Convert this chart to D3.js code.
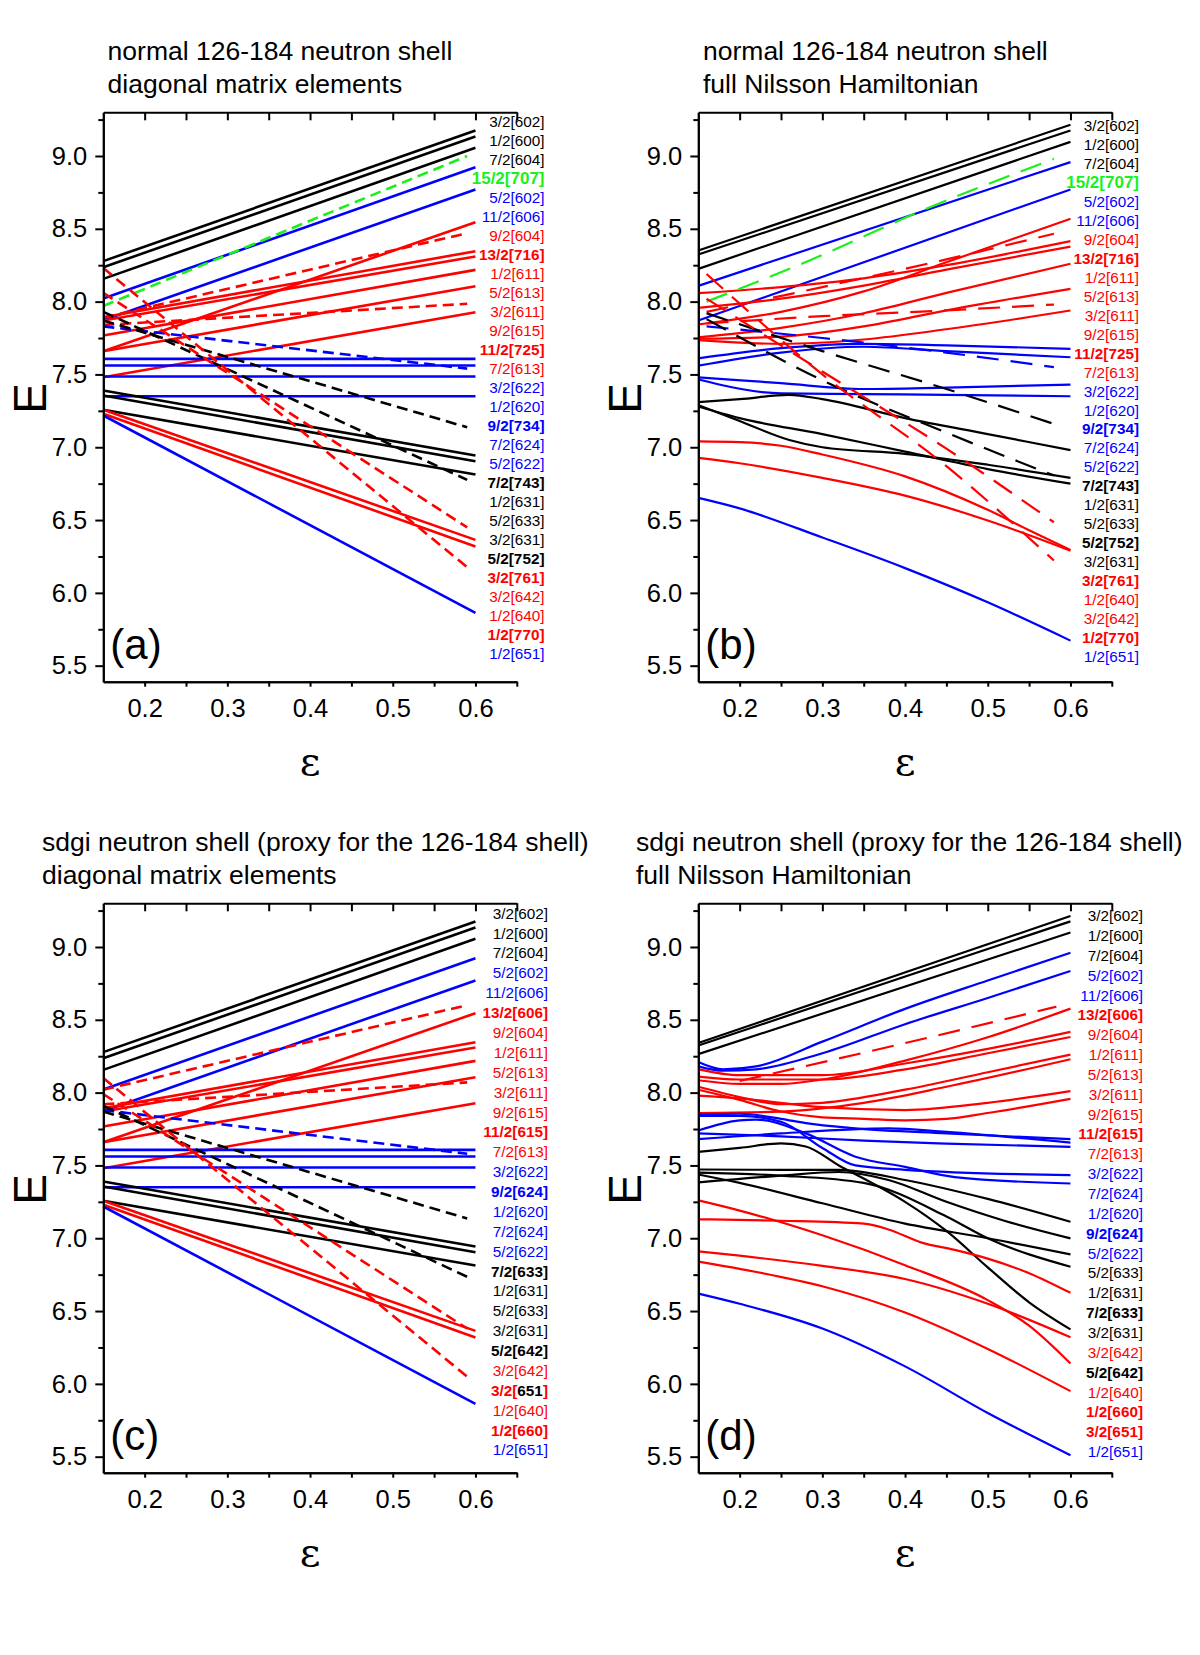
<!DOCTYPE html>
<html>
<head>
<meta charset="utf-8">
<style>
    body { margin: 0; background: white; }
    svg { display: block; font-family: 'Liberation Sans', Arial, Helvetica, sans-serif; }
</style>
</head>
<body>
<svg width="1200" height="1655"></svg>

<script src="https://d3js.org/d3.v7.min.js"></script>
<script>
    // axis values
    let epsDomain = [0.15, 0.65]
    let eDomain = [5.39, 9.3]
    let epsMajor = [0.2, 0.3, 0.4, 0.5, 0.6]
    let epsMinor = [0.25, 0.35, 0.45, 0.55, 0.65]
    let eMajor = [5.5, 6.0, 6.5, 7.0, 7.5, 8.0, 8.5, 9.0]
    let eMinor = [5.75, 6.25, 6.75, 7.25, 7.75, 8.25, 8.75, 9.25]

    // diagonal matrix elements are straight lines: [colour, E at first eps, E at last eps]
    let diagEps = [0.15, 0.6]
    let dashEps = [0.15, 0.59]
    let diagSolid = [
        ["k", 8.278, 9.175], ["k", 8.236, 9.134], ["k", 8.156, 9.056],
        ["b", 8.022, 8.923], ["b", 7.872, 8.770],
        ["r", 7.659, 8.545], ["r", 7.893, 8.346], ["r", 7.870, 8.310], ["r", 7.767, 8.218],
        ["r", 7.659, 8.106], ["r", 7.481, 7.927],
        ["b", 7.607, 7.607], ["b", 7.561, 7.561], ["b", 7.486, 7.486], ["b", 7.350, 7.350],
        ["k", 7.389, 6.943], ["k", 7.355, 6.904], ["k", 7.257, 6.813],
        ["r", 7.257, 6.364], ["r", 7.230, 6.318],
        ["b", 7.218, 5.863]
    ]
    let diagDashedA = [
        ["g", 7.97, 9.00], ["r", 7.89, 8.47], ["r", 7.84, 7.985], ["b", 7.83, 7.54],
        ["k", 7.87, 7.137], ["k", 7.93, 6.776], ["r", 8.06, 6.45], ["r", 8.23, 6.176]
    ]
    let diagDashedC = [
        ["r", 8.02, 8.60], ["r", 7.92, 8.07], ["b", 7.88, 7.58], ["k", 7.87, 7.136],
        ["k", 7.91, 6.735], ["r", 7.99, 6.38], ["r", 8.10, 6.05]
    ]

    // full Nilsson hamiltonian, normal 126-184 shell: [colour, [[eps, E], ...]]
    let fullSolidB = [
        ["k", [[0.15, 8.351], [0.6, 9.214]]],
        ["k", [[0.15, 8.323], [0.6, 9.175]]],
        ["k", [[0.15, 8.225], [0.6, 9.097]]],
        ["b", [[0.15, 8.108], [0.6, 8.958]]],
        ["b", [[0.15, 7.870], [0.6, 8.770]]],
        ["r", [[0.15, 8.058], [0.25, 8.10], [0.35, 8.16], [0.45, 8.25], [0.6, 8.415]]],
        ["r", [[0.15, 7.957], [0.25, 8.02], [0.35, 8.11], [0.45, 8.22], [0.6, 8.378]]],
        ["r", [[0.15, 7.843], [0.25, 7.93], [0.35, 8.07], [0.45, 8.27], [0.6, 8.569]]],
        ["r", [[0.15, 7.755], [0.25, 7.82], [0.35, 7.92], [0.45, 8.06], [0.6, 8.26]]],
        ["r", [[0.15, 7.745], [0.25, 7.76], [0.35, 7.83], [0.45, 7.94], [0.6, 8.088]]],
        ["r", [[0.15, 7.735], [0.25, 7.71], [0.35, 7.74], [0.45, 7.81], [0.6, 7.939]]],
        ["b", [[0.15, 7.61], [0.25, 7.68], [0.35, 7.71], [0.45, 7.70], [0.6, 7.676]]],
        ["b", [[0.15, 7.56], [0.25, 7.65], [0.35, 7.69], [0.45, 7.66], [0.6, 7.618]]],
        ["b", [[0.15, 7.48], [0.25, 7.44], [0.35, 7.40], [0.45, 7.41], [0.6, 7.43]]],
        ["b", [[0.15, 7.465], [0.25, 7.37], [0.35, 7.365], [0.45, 7.36], [0.6, 7.35]]],
        ["k", [[0.15, 7.31], [0.2, 7.33], [0.26, 7.36], [0.3, 7.33], [0.4, 7.20], [0.5, 7.09], [0.6, 6.98]]],
        ["k", [[0.15, 7.29], [0.2, 7.18], [0.26, 7.05], [0.3, 7.00], [0.4, 6.955], [0.5, 6.88], [0.6, 6.79]]],
        ["k", [[0.15, 7.28], [0.2, 7.20], [0.3, 7.09], [0.4, 6.97], [0.5, 6.85], [0.6, 6.75]]],
        ["r", [[0.15, 7.04], [0.2, 7.035], [0.25, 7.01], [0.3, 6.95], [0.4, 6.80], [0.5, 6.57], [0.55, 6.43], [0.6, 6.295]]],
        ["r", [[0.15, 6.927], [0.2, 6.89], [0.3, 6.79], [0.4, 6.668], [0.5, 6.497], [0.6, 6.29]]],
        ["b", [[0.15, 6.652], [0.2, 6.58], [0.3, 6.38], [0.4, 6.17], [0.5, 5.935], [0.6, 5.672]]]
    ]
    let fullDashedB = [
        ["g", [[0.16, 8.00], [0.3, 8.32], [0.41, 8.60], [0.58, 8.98]]],
        ["r", [[0.16, 7.93], [0.3, 8.10], [0.45, 8.29], [0.58, 8.466]]],
        ["r", [[0.16, 7.85], [0.3, 7.90], [0.45, 7.94], [0.58, 7.98]]],
        ["b", [[0.16, 7.83], [0.3, 7.75], [0.45, 7.65], [0.58, 7.55]]],
        ["k", [[0.16, 7.92], [0.3, 7.66], [0.45, 7.40], [0.58, 7.16]]],
        ["k", [[0.16, 7.88], [0.3, 7.46], [0.45, 7.10], [0.58, 6.806]]],
        ["r", [[0.16, 8.02], [0.3, 7.52], [0.45, 6.99], [0.58, 6.485]]],
        ["r", [[0.16, 8.19], [0.3, 7.50], [0.45, 6.87], [0.58, 6.222]]]
    ]

    // full Nilsson hamiltonian, sdgi proxy shell
    let fullSolidD = [
        ["k", [[0.15, 8.341], [0.6, 9.213]]],
        ["k", [[0.15, 8.323], [0.6, 9.176]]],
        ["k", [[0.15, 8.264], [0.6, 9.099]]],
        ["b", [[0.15, 8.21], [0.18, 8.16], [0.22, 8.18], [0.3, 8.35], [0.4, 8.575], [0.5, 8.77], [0.6, 8.96]]],
        ["b", [[0.15, 8.18], [0.18, 8.15], [0.22, 8.16], [0.3, 8.27], [0.4, 8.47], [0.5, 8.65], [0.6, 8.835]]],
        ["r", [[0.15, 8.16], [0.2, 8.12], [0.3, 8.12], [0.4, 8.20], [0.5, 8.30], [0.6, 8.417]]],
        ["r", [[0.15, 8.11], [0.2, 8.09], [0.3, 8.09], [0.4, 8.16], [0.5, 8.27], [0.6, 8.382]]],
        ["r", [[0.15, 8.085], [0.2, 8.06], [0.25, 8.06], [0.3, 8.09], [0.4, 8.22], [0.5, 8.38], [0.6, 8.577]]],
        ["r", [[0.15, 8.04], [0.2, 7.97], [0.25, 7.92], [0.3, 7.93], [0.4, 8.02], [0.5, 8.14], [0.6, 8.261]]],
        ["r", [[0.15, 8.02], [0.2, 7.95], [0.25, 7.87], [0.3, 7.83], [0.35, 7.82], [0.4, 7.81], [0.45, 7.82], [0.5, 7.86], [0.6, 7.957]]],
        ["r", [[0.15, 7.86], [0.25, 7.87], [0.35, 7.93], [0.45, 8.04], [0.6, 8.229]]],
        ["r", [[0.15, 7.98], [0.2, 7.96], [0.3, 7.90], [0.4, 7.88], [0.5, 7.93], [0.6, 8.010]]],
        ["b", [[0.15, 7.85], [0.2, 7.855], [0.25, 7.82], [0.28, 7.79], [0.34, 7.755], [0.45, 7.72], [0.6, 7.68]]],
        ["b", [[0.15, 7.74], [0.2, 7.81], [0.22, 7.815], [0.28, 7.72], [0.34, 7.56], [0.4, 7.49], [0.46, 7.42], [0.6, 7.376]]],
        ["b", [[0.15, 7.72], [0.25, 7.70], [0.35, 7.67], [0.45, 7.65], [0.6, 7.627]]],
        ["b", [[0.15, 7.68], [0.25, 7.72], [0.38, 7.755], [0.45, 7.73], [0.6, 7.657]]],
        ["b", [[0.15, 7.84], [0.2, 7.84], [0.25, 7.80], [0.3, 7.62], [0.34, 7.50], [0.4, 7.47], [0.6, 7.433]]],
        ["k", [[0.15, 7.593], [0.2, 7.62], [0.25, 7.651], [0.28, 7.63], [0.32, 7.50], [0.36, 7.38], [0.4, 7.25], [0.45, 7.05], [0.5, 6.80], [0.55, 6.56], [0.6, 6.374]]],
        ["k", [[0.15, 7.472], [0.25, 7.47], [0.32, 7.47], [0.4, 7.40], [0.5, 7.27], [0.6, 7.113]]],
        ["k", [[0.15, 7.383], [0.25, 7.43], [0.32, 7.455], [0.38, 7.40], [0.45, 7.25], [0.52, 7.12], [0.6, 6.999]]],
        ["k", [[0.15, 7.438], [0.2, 7.38], [0.3, 7.24], [0.4, 7.10], [0.5, 7.00], [0.6, 6.889]]],
        ["k", [[0.15, 7.45], [0.25, 7.43], [0.35, 7.38], [0.45, 7.15], [0.5, 7.00], [0.6, 6.804]]],
        ["r", [[0.15, 7.13], [0.25, 7.12], [0.35, 7.10], [0.38, 7.06], [0.42, 6.97], [0.46, 6.92], [0.5, 6.86], [0.55, 6.76], [0.6, 6.625]]],
        ["r", [[0.15, 7.26], [0.2, 7.19], [0.3, 7.02], [0.4, 6.815], [0.5, 6.575], [0.55, 6.40], [0.6, 6.14]]],
        ["r", [[0.15, 6.91], [0.2, 6.88], [0.3, 6.81], [0.4, 6.72], [0.5, 6.55], [0.6, 6.32]]],
        ["r", [[0.15, 6.84], [0.2, 6.79], [0.3, 6.67], [0.4, 6.49], [0.5, 6.24], [0.6, 5.95]]],
        ["b", [[0.15, 6.62], [0.2, 6.55], [0.3, 6.38], [0.4, 6.12], [0.5, 5.80], [0.6, 5.51]]]
    ]
    let fullDashedD = [
        ["r", [[0.2, 8.08], [0.4, 8.34], [0.583, 8.59]]]
    ]

    // level labels on the right: [text, colour, bold, optional coloured pieces]
    let labelsA = [
        ["3/2[602]", "k"], ["1/2[600]", "k"], ["7/2[604]", "k"], ["15/2[707]", "g", 1], ["5/2[602]", "b"],
        ["11/2[606]", "b"], ["9/2[604]", "r"], ["13/2[716]", "r", 1], ["1/2[611]", "r"], ["5/2[613]", "r"],
        ["3/2[611]", "r"], ["9/2[615]", "r"], ["11/2[725]", "r", 1], ["7/2[613]", "r"], ["3/2[622]", "b"],
        ["1/2[620]", "b"], ["9/2[734]", "b", 1], ["7/2[624]", "b"], ["5/2[622]", "b"], ["7/2[743]", "k", 1],
        ["1/2[631]", "k"], ["5/2[633]", "k"], ["3/2[631]", "k"], ["5/2[752]", "k", 1], ["3/2[761]", "r", 1],
        ["3/2[642]", "r"], ["1/2[640]", "r"], ["1/2[770]", "r", 1], ["1/2[651]", "b"]
    ]
    let labelsB = [
        ["3/2[602]", "k"], ["1/2[600]", "k"], ["7/2[604]", "k"], ["15/2[707]", "g", 1], ["5/2[602]", "b"],
        ["11/2[606]", "b"], ["9/2[604]", "r"], ["13/2[716]", "r", 1], ["1/2[611]", "r"], ["5/2[613]", "r"],
        ["3/2[611]", "r"], ["9/2[615]", "r"], ["11/2[725]", "r", 1], ["7/2[613]", "r"], ["3/2[622]", "b"],
        ["1/2[620]", "b"], ["9/2[734]", "b", 1], ["7/2[624]", "b"], ["5/2[622]", "b"], ["7/2[743]", "k", 1],
        ["1/2[631]", "k"], ["5/2[633]", "k"], ["5/2[752]", "k", 1], ["3/2[631]", "k"], ["3/2[761]", "r", 1],
        ["1/2[640]", "r"], ["3/2[642]", "r"], ["1/2[770]", "r", 1], ["1/2[651]", "b"]
    ]
    let labelsC = [
        ["3/2[602]", "k"], ["1/2[600]", "k"], ["7/2[604]", "k"], ["5/2[602]", "b"], ["11/2[606]", "b"],
        ["13/2[606]", "r", 1], ["9/2[604]", "r"], ["1/2[611]", "r"], ["5/2[613]", "r"], ["3/2[611]", "r"],
        ["9/2[615]", "r"], ["11/2[615]", "r", 1], ["7/2[613]", "r"], ["3/2[622]", "b"], ["9/2[624]", "b", 1],
        ["1/2[620]", "b"], ["7/2[624]", "b"], ["5/2[622]", "b"], ["7/2[633]", "k", 1], ["1/2[631]", "k"],
        ["5/2[633]", "k"], ["3/2[631]", "k"], ["5/2[642]", "k", 1], ["3/2[642]", "r"],
        ["3/2[651]", "r", 1, [["3/2[", "r"], ["651", "k"], ["]", "r"]]],
        ["1/2[640]", "r"], ["1/2[660]", "r", 1], ["1/2[651]", "b"]
    ]
    let labelsD = [
        ["3/2[602]", "k"], ["1/2[600]", "k"], ["7/2[604]", "k"], ["5/2[602]", "b"], ["11/2[606]", "b"],
        ["13/2[606]", "r", 1], ["9/2[604]", "r"], ["1/2[611]", "r"], ["5/2[613]", "r"], ["3/2[611]", "r"],
        ["9/2[615]", "r"], ["11/2[615]", "r", 1], ["7/2[613]", "r"], ["3/2[622]", "b"], ["7/2[624]", "b"],
        ["1/2[620]", "b"], ["9/2[624]", "b", 1], ["5/2[622]", "b"], ["5/2[633]", "k"], ["1/2[631]", "k"],
        ["7/2[633]", "k", 1], ["3/2[631]", "k"], ["3/2[642]", "r"], ["5/2[642]", "k", 1], ["1/2[640]", "r"],
        ["1/2[660]", "r", 1], ["3/2[651]", "r", 1], ["1/2[651]", "b"]
    ]

    let colours = { k: "#000000", b: "#0000ff", r: "#ff0000", g: "#1af01a" }

    let svg = d3.select("svg")
    let plotW = 413.5
    let plotH = 569.4

    // turn the straight-line tables into point lists
    function straight(rows, eps) {
        return rows.map(r => [r[0], [[eps[0], r[1]], [eps[1], r[2]]]])
    }

    let panels = [
        {
            left: 103.3, top: 112.3, tag: "(a)", smooth: false, lw: 2.6, dash: "11,6",
            title: ["normal 126-184 neutron shell", "diagonal matrix elements"], titleX: 107.6,
            solid: straight(diagSolid, diagEps), dashed: straight(diagDashedA, dashEps),
            labels: labelsA, labelX: 544.5, labelY0: 122, labelStep: 19.0
        },
        {
            left: 698.3, top: 112.3, tag: "(b)", smooth: true, lw: 2.2, dash: "22,12",
            title: ["normal 126-184 neutron shell", "full Nilsson Hamiltonian"], titleX: 703,
            solid: fullSolidB, dashed: fullDashedB,
            labels: labelsB, labelX: 1139, labelY0: 125.7, labelStep: 18.96
        },
        {
            left: 103.3, top: 903.3, tag: "(c)", smooth: false, lw: 2.6, dash: "11,6",
            title: ["sdgi neutron shell (proxy for the 126-184 shell)", "diagonal matrix elements"], titleX: 42,
            solid: straight(diagSolid, diagEps), dashed: straight(diagDashedC, dashEps),
            labels: labelsC, labelX: 548, labelY0: 913.3, labelStep: 19.88
        },
        {
            left: 698.3, top: 903.3, tag: "(d)", smooth: true, lw: 2.2, dash: "22,12",
            title: ["sdgi neutron shell (proxy for the 126-184 shell)", "full Nilsson Hamiltonian"], titleX: 636,
            solid: fullSolidD, dashed: fullDashedD,
            labels: labelsD, labelX: 1143, labelY0: 915.7, labelStep: 19.85
        }
    ]

    panels.forEach(drawPanel)

    function drawPanel(p) {
        let x = d3.scaleLinear().domain(epsDomain).range([p.left, p.left + plotW])
        let y = d3.scaleLinear().domain(eDomain).range([p.top + plotH, p.top])
        let g = svg.append("g")

        let line = d3.line()
            .x(d => x(d[0]))
            .y(d => y(d[1]))
            .curve(p.smooth ? d3.curveMonotoneX : d3.curveLinear)

        g.append("g").selectAll("path")
            .data(p.solid)
            .join("path")
            .attr("d", d => line(d[1]))
            .attr("fill", "none")
            .attr("stroke", d => colours[d[0]])
            .attr("stroke-width", p.lw)

        g.append("g").selectAll("path")
            .data(p.dashed)
            .join("path")
            .attr("d", d => line(d[1]))
            .attr("fill", "none")
            .attr("stroke", d => colours[d[0]])
            .attr("stroke-width", p.lw)
            .attr("stroke-dasharray", p.dash)

        // axes
        let fmt = d3.format(".1f")
        let bottom = p.top + plotH
        g.append("g").attr("transform", `translate(${p.left},0)`)
            .call(d3.axisLeft(y).tickValues(eMajor).tickSize(8).tickPadding(8).tickSizeOuter(0).tickFormat(fmt))
        g.append("g").attr("transform", `translate(${p.left},0)`)
            .call(d3.axisLeft(y).tickValues(eMinor).tickSize(5).tickSizeOuter(0).tickFormat(""))
        g.append("g").attr("transform", `translate(0,${bottom})`)
            .call(d3.axisBottom(x).tickValues(epsMajor).tickSize(5).tickPadding(12).tickSizeOuter(0).tickFormat(fmt))
        g.append("g").attr("transform", `translate(0,${bottom})`)
            .call(d3.axisBottom(x).tickValues(epsMinor).tickSize(5).tickSizeOuter(0).tickFormat(""))
        g.append("g").attr("transform", `translate(0,${p.top})`)
            .call(d3.axisBottom(x).tickValues(epsMajor.concat(epsMinor)).tickSize(8).tickSizeOuter(0).tickFormat(""))

        g.selectAll(".domain, .tick line").attr("stroke", "black").attr("stroke-width", 2)
        g.selectAll(".tick text")
            .attr("font-family", "'Liberation Sans', Arial, sans-serif")
            .attr("font-size", "25.5px")
            .attr("fill", "black")

        // axis titles
        g.append("text")
            .attr("x", (x.range()[0] + x.range()[1]) / 2)
            .attr("y", bottom + 93)
            .attr("text-anchor", "middle")
            .attr("font-family", "'DejaVu Serif', 'Liberation Serif', serif")
            .attr("font-size", "40px")
            .text("ε")
        g.append("text")
            .attr("transform", `translate(${p.left - 73},${p.top + 286}) rotate(-90)`)
            .attr("text-anchor", "middle")
            .attr("dominant-baseline", "central")
            .attr("font-size", "46px")
            .text("E")

        // panel letter
        g.append("text")
            .attr("x", p.left + 7)
            .attr("y", p.top + 547)
            .attr("font-size", "42px")
            .text(p.tag)

        // title
        g.selectAll(".title")
            .data(p.title)
            .join("text")
            .attr("x", p.titleX)
            .attr("y", (d, i) => p.top - 52.8 + i * 33.3)
            .attr("font-size", "26.5px")
            .text(d => d)

        // level labels
        let labs = g.append("g").selectAll("text")
            .data(p.labels)
            .join("text")
            .attr("x", p.labelX)
            .attr("y", (d, i) => p.labelY0 + i * p.labelStep + 5.4)
            .attr("text-anchor", "end")
            .attr("font-size", d => d[1] == "g" ? "17px" : "15.3px")
            .attr("font-weight", d => d[2] ? "bold" : "normal")
            .attr("fill", d => colours[d[1]])

        labs.each(function (d) {
            let t = d3.select(this)
            if (d[3]) {
                d[3].forEach(part => t.append("tspan").attr("fill", colours[part[1]]).text(part[0]))
            } else {
                t.text(d[0])
            }
        })
    }
</script>
</body>
</html>
